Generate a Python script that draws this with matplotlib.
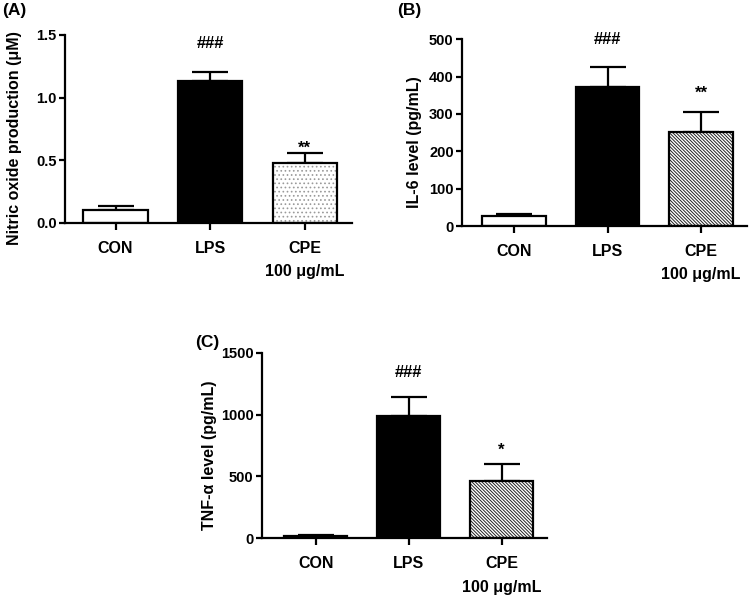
import matplotlib

matplotlib.use("Agg")
import matplotlib.pyplot as plt

plt.rcParams.update({
    "font.family": ["Liberation Sans", "DejaVu Sans"],
    "font.weight": "bold",
    "axes.linewidth": 1.6,
    "hatch.linewidth": 0.7,
})

GROUPS = ["CON", "LPS", "CPE\n100 μg/mL"]

NO_MEAN = [0.105, 1.135, 0.476]
NO_SEM = [0.031, 0.072, 0.085]
IL6_MEAN = [27, 371, 251]
IL6_SEM = [6, 56, 53]
TNF_MEAN = [19, 988, 463]
TNF_SEM = [6, 156, 135]

# (label, y) for the significance marks above LPS and CPE
NO_MARKS = [("###", 1.43), ("**", 0.60)]
IL6_MARKS = [("###", 500), ("**", 355)]
TNF_MARKS = [("###", 1339), ("*", 715)]

W = 0.68


def panel(ax, mean, sem, marks, ylabel, ylim, yticks, xlim, cpe_hatch, cpe_hatch_color, label_x):
    x = [0, 1, 2]
    ax.errorbar(x, mean, yerr=[[0, 0, 0], sem], fmt="none", ecolor="black",
                elinewidth=1.6, capsize=13, capthick=1.6, zorder=1)
    ax.bar(x[0], mean[0], W, color="white", edgecolor="black", linewidth=1.6, zorder=2)
    ax.bar(x[1], mean[1], W, color="black", edgecolor="black", linewidth=1.6, zorder=2)
    # hatch layer + outline layer for the extract bar
    ax.bar(x[2], mean[2], W, color="white", edgecolor=cpe_hatch_color, hatch=cpe_hatch,
           linewidth=0, zorder=2)
    ax.bar(x[2], mean[2], W, fill=False, edgecolor="black", linewidth=1.6, zorder=3)
    for xi, (txt, y) in zip([1, 2], marks):
        ax.text(xi, y, txt, ha="center", va="center", fontsize=12, fontweight="bold")

    ax.set_xlim(*xlim)
    ax.set_ylim(*ylim)
    ax.set_yticks(yticks)
    ax.set_xticks(x)
    ax.set_xticklabels(GROUPS, fontsize=11.5, fontweight="bold")
    ax.get_xticklabels()[2].set_linespacing(1.7)
    ax.tick_params(axis="x", length=5, width=1.6, pad=8)
    ax.tick_params(axis="y", length=4, width=1.6, labelsize=10.5, pad=2)
    for t in ax.get_yticklabels():
        t.set_fontweight("bold")
    ax.spines["top"].set_visible(False)
    ax.spines["right"].set_visible(False)
    ax.set_ylabel(ylabel, fontsize=11.5, fontweight="bold")
    ax.yaxis.set_label_coords(label_x, 0.45)


fig = plt.figure(figsize=(7.49, 6.03), dpi=100)

ax_a = fig.add_axes([0.0868, 0.6302, 0.3832, 0.3118])
panel(ax_a, NO_MEAN, NO_SEM, NO_MARKS, "Nitric oxide production (μM)",
      (0, 1.5), [0.0, 0.5, 1.0, 1.5], (-0.534, 2.50), "....", "#9a9a9a", -0.150)
ax_a.set_yticklabels(["0.0", "0.5", "1.0", "1.5"])

ax_b = fig.add_axes([0.6168, 0.6252, 0.3805, 0.3096])
panel(ax_b, IL6_MEAN, IL6_SEM, IL6_MARKS, "IL-6 level (pg/mL)",
      (0, 500), [0, 100, 200, 300, 400, 500], (-0.556, 2.49), "\\" * 10, "#222222", -0.140)

ax_c = fig.add_axes([0.3498, 0.1073, 0.3805, 0.3078])
panel(ax_c, TNF_MEAN, TNF_SEM, TNF_MARKS, "TNF-α level (pg/mL)",
      (0, 1500), [0, 500, 1000, 1500], (-0.58, 2.49), "\\" * 10, "#222222", -0.158)

fig.text(2 / 749, 1 - 11 / 603, "(A)", fontsize=12.5, fontweight="bold", va="center", ha="left")
fig.text(397 / 749, 1 - 11 / 603, "(B)", fontsize=12.5, fontweight="bold", va="center", ha="left")
fig.text(195 / 749, 1 - 342 / 603, "(C)", fontsize=12.5, fontweight="bold", va="center", ha="left")

fig.savefig("out.png", dpi=100)
